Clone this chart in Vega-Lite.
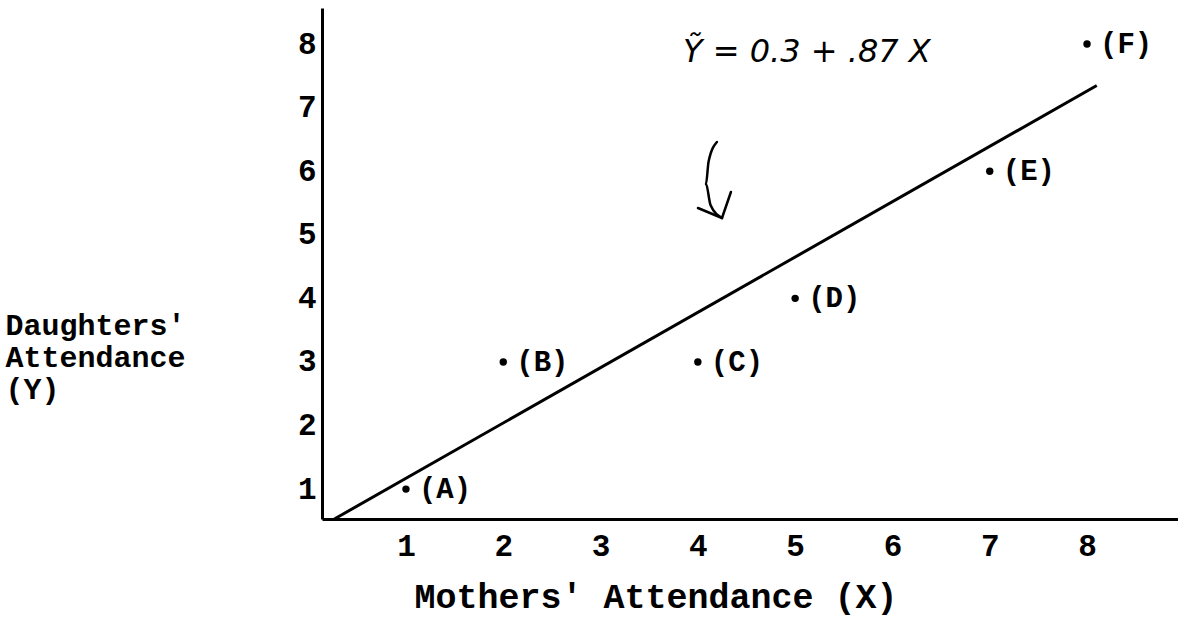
{
  "$schema": "https://vega.github.io/schema/vega-lite/v6.json",
  "width": 856,
  "height": 511,
  "autosize": {"type": "none"},
  "padding": {"left": 322, "top": 8, "right": 0, "bottom": 101},
  "background": "white",
  "config": {"view": {"stroke": null}, "font": "Liberation Mono"},
  "datasets": {
    "families": [
      {"mother": 1, "daughter": 1, "pair": "(A)"},
      {"mother": 2, "daughter": 3, "pair": "(B)"},
      {"mother": 4, "daughter": 3, "pair": "(C)"},
      {"mother": 5, "daughter": 4, "pair": "(D)"},
      {"mother": 7, "daughter": 6, "pair": "(E)"},
      {"mother": 8, "daughter": 8, "pair": "(F)"}
    ],
    "fit": [
      {"mother": 0.264, "daughter": 0.53},
      {"mother": 8.1, "daughter": 7.347}
    ],
    "arrow": [
      {"part": "shaft", "step": 1, "mother": 4.196, "daughter": 6.459},
      {"part": "shaft", "step": 2, "mother": 4.11, "daughter": 6.15},
      {"part": "shaft", "step": 3, "mother": 4.084, "daughter": 5.8},
      {"part": "shaft", "step": 4, "mother": 4.13, "daughter": 5.47},
      {"part": "shaft", "step": 5, "mother": 4.248, "daughter": 5.264},
      {"part": "left", "step": 1, "mother": 4.001, "daughter": 5.421},
      {"part": "left", "step": 2, "mother": 4.248, "daughter": 5.264},
      {"part": "right", "step": 1, "mother": 4.34, "daughter": 5.673},
      {"part": "right", "step": 2, "mother": 4.248, "daughter": 5.264}
    ],
    "note": [
      {"mother": 3.847, "daughter": 7.717, "text": "Ỹ = 0.3 + .87 X"}
    ]
  },
  "encoding": {
    "x": {
      "field": "mother",
      "type": "quantitative",
      "scale": {"domain": [0.137, 8.935], "nice": false, "zero": false},
      "axis": {
        "values": [1, 2, 3, 4, 5, 6, 7, 8],
        "ticks": false,
        "grid": false,
        "domainColor": "black",
        "domainWidth": 3,
        "labelColor": "black",
        "labelFont": "Liberation Mono",
        "labelFontWeight": "bold",
        "labelFontSize": 31,
        "labelPadding": 12,
        "labelFlush": false,
        "title": "Mothers' Attendance (X)",
        "titleColor": "black",
        "titleFont": "Liberation Mono",
        "titleFontWeight": "bold",
        "titleFontSize": 35,
        "titleAlign": "left",
        "titleBaseline": "alphabetic",
        "titleX": 92,
        "titleY": 88
      }
    },
    "y": {
      "field": "daughter",
      "type": "quantitative",
      "scale": {"domain": [0.53, 8.567], "nice": false, "zero": false},
      "axis": {
        "values": [1, 2, 3, 4, 5, 6, 7, 8],
        "ticks": false,
        "grid": false,
        "domainColor": "black",
        "domainWidth": 3,
        "labelColor": "black",
        "labelFont": "Liberation Mono",
        "labelFontWeight": "bold",
        "labelFontSize": 31,
        "labelPadding": 6,
        "labelFlush": false,
        "title": ["Daughters'", "Attendance", "(Y)"],
        "titleColor": "black",
        "titleFont": "Liberation Mono",
        "titleFontWeight": "bold",
        "titleFontSize": 30,
        "titleLineHeight": 32,
        "titleAngle": 0,
        "titleAlign": "left",
        "titleBaseline": "alphabetic",
        "titleX": -317,
        "titleY": 326
      }
    }
  },
  "layer": [
    {
      "data": {"name": "fit"},
      "mark": {"type": "line", "color": "black", "strokeWidth": 3}
    },
    {
      "data": {"name": "arrow"},
      "mark": {"type": "line", "color": "black", "strokeWidth": 2.5, "interpolate": "monotone", "strokeCap": "round", "strokeJoin": "round"},
      "encoding": {
        "detail": {"field": "part"},
        "order": {"field": "step", "type": "quantitative"}
      }
    },
    {
      "data": {"name": "families"},
      "mark": {"type": "point", "filled": true, "color": "black", "size": 55, "opacity": 1}
    },
    {
      "data": {"name": "families"},
      "mark": {"type": "text", "align": "left", "baseline": "middle", "dx": 13, "fontSize": 29, "fontWeight": "bold", "font": "Liberation Mono", "color": "black"},
      "encoding": {"text": {"field": "pair"}}
    },
    {
      "data": {"name": "note"},
      "mark": {"type": "text", "align": "left", "baseline": "alphabetic", "fontSize": 32, "fontStyle": "italic", "font": "DejaVu Sans", "color": "black"},
      "encoding": {"text": {"field": "text"}}
    }
  ]
}
